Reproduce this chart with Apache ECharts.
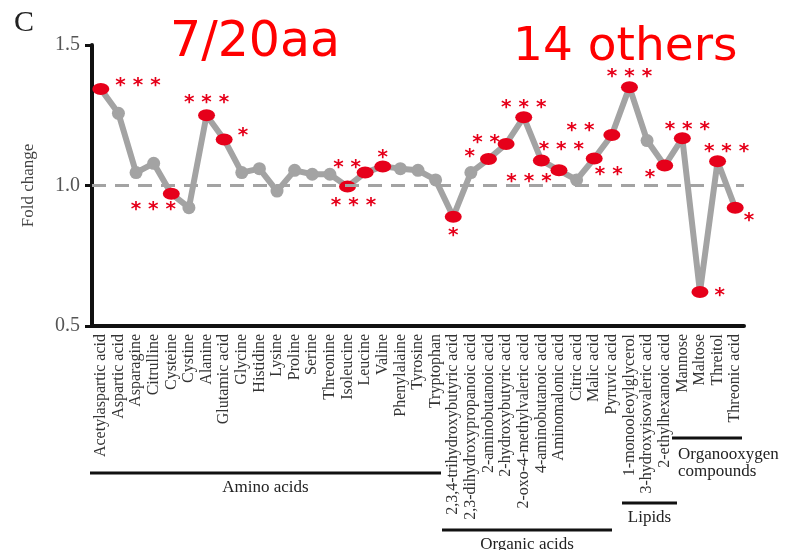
<!DOCTYPE html>
<html>
<head>
<meta charset="utf-8">
<script src="https://cdn.jsdelivr.net/npm/echarts@6/dist/echarts.min.js"></script>
<style>
    html, body { margin: 0; padding: 0; background: #fff; }
    #chart { width: 796px; height: 550px; }
</style>
</head>
<body>
<div id="chart"></div>
<script>
// metabolites on the x axis
const metabolites = [
    'Acetylaspartic acid', 'Aspartic acid', 'Asparagine', 'Citrulline', 'Cysteine', 'Cystine',
    'Alanine', 'Glutamic acid', 'Glycine', 'Histidine', 'Lysine', 'Proline', 'Serine',
    'Threonine', 'Isoleucine', 'Leucine', 'Valine', 'Phenylalaine', 'Tyrosine', 'Tryptophan',
    '2,3,4-trihydroxybutyric acid', '2,3-dihydroxypropanoic acid', '2-aminobutanoic acid',
    '2-hydroxybutyric acid', '2-oxo-4-methylvaleric acid', '4-aminobutanoic acid',
    'Aminomalonic acid', 'Citric acid', 'Malic acid', 'Pyruvic acid',
    '1-monooleoylglycerol', '3-hydroxyisovaleric acid', '2-ethylhexanoic acid',
    'Mannose', 'Maltose', 'Threitol', 'Threonic acid'
];

// fold change
const foldChange = [
    1.343, 1.257, 1.046, 1.079, 0.971, 0.921,
    1.250, 1.164, 1.046, 1.060, 0.980, 1.054, 1.040,
    1.040, 0.996, 1.046, 1.068, 1.060, 1.054, 1.020,
    0.889, 1.046, 1.094,
    1.148, 1.243, 1.089,
    1.054, 1.020, 1.096, 1.180,
    1.350, 1.160, 1.071,
    1.168, 0.621, 1.086, 0.921
];

// significance stars ('' = not significant)
const stars = [
    '***', '', '', '', '***', '',
    '***', '*', '', '', '', '', '',
    '', '***', '**', '*', '', '', '',
    '*', '', '*',
    '**', '***', '***',
    '***', '', '**', '**',
    '***', '', '*',
    '***', '*', '***', '*'
];

// where each star label sits: [position, dx, dy]
const starPlace = {
    0: ['right', 1, -3], 4: ['bottom', -18, -5], 6: ['top', 0, 9], 7: ['right', 0, -4],
    14: ['bottom', 6, -2], 15: ['top', -18, 16], 16: ['top', 0, 12],
    20: ['bottom', 0, -2], 22: ['left', 0, -2], 23: ['top', -20, 20], 24: ['top', 0, 12],
    25: ['top', 20, 10], 26: ['bottom', -30, -10], 28: ['right', -13, 16], 29: ['left', -4, -4],
    30: ['top', 0, 11], 32: ['left', 4, 12], 33: ['top', 5, 13], 34: ['right', 1, 4],
    35: ['top', 9, 11], 36: ['right', -5, 13]
};

const groups = [
    { name: 'Amino acids', x1: 90, x2: 441, y: 473 },
    { name: 'Organic acids', x1: 442, x2: 612, y: 530 },
    { name: 'Lipids', x1: 622, x2: 677, y: 503 }
];

const RED = '#e6001a';
const GREY = '#a3a3a3';
const SERIF = '"Liberation Serif", "DejaVu Serif", serif';

const chart = echarts.init(document.getElementById('chart'));

const points = foldChange.map((v, i) => {
    const sig = stars[i] !== '';
    const p = starPlace[i] || ['top', 0, 0];
    return {
        value: v,
        symbolSize: sig ? [17, 12] : [13, 13],
        itemStyle: { color: sig ? RED : GREY },
        label: {
            show: sig,
            position: p[0],
            formatter: () => stars[i].split('').join(' '),
            color: RED,
            fontSize: 20,
            fontWeight: 'bold',
            fontFamily: '"DejaVu Sans", sans-serif'
        }
    };
});

const graphic = [
    { type: 'text', left: 14, top: 8, style: { text: 'C', font: '30px ' + SERIF, fill: '#222' } },
    { type: 'text', left: 170, top: 19, style: { text: '7/20aa', font: '49px "DejaVu Sans"', fill: '#ff0000' } },
    { type: 'text', left: 513, top: 24, style: { text: '14 others', font: '47px "DejaVu Sans"', fill: '#ff0000' } },
    { type: 'line', shape: { x1: 672, y1: 438, x2: 742, y2: 438 }, style: { stroke: '#111', lineWidth: 3 } },
    { type: 'text', left: 678, top: 446, style: { text: 'Organooxygen\ncompounds', font: '17px ' + SERIF, fill: '#222', lineHeight: 17 } }
];
groups.forEach(g => {
    graphic.push({ type: 'line', shape: { x1: g.x1, y1: g.y, x2: g.x2, y2: g.y }, style: { stroke: '#111', lineWidth: 3 } });
    graphic.push({
        type: 'text', x: (g.x1 + g.x2) / 2, y: g.y + 6,
        style: { text: g.name, font: '17px ' + SERIF, fill: '#222', align: 'center', verticalAlign: 'top' }
    });
});

const option = {
    animation: false,
    grid: { left: 92, right: 52, top: 45, bottom: 224 },
    xAxis: {
        type: 'category',
        data: metabolites,
        boundaryGap: true,
        axisLine: { lineStyle: { color: '#111', width: 4 } },
        axisTick: { alignWithLabel: true, length: 6, lineStyle: { color: '#111', width: 5 } },
        axisLabel: {
            interval: 0, rotate: 90, margin: 8,
            fontSize: 16, fontFamily: SERIF, color: '#333'
        }
    },
    yAxis: {
        type: 'value',
        min: 0.5, max: 1.5, interval: 0.5,
        name: 'Fold change',
        nameLocation: 'middle',
        nameRotate: 90,
        nameGap: 55,
        nameTextStyle: { fontSize: 17, fontFamily: SERIF, color: '#444' },
        axisLine: { show: true, lineStyle: { color: '#111', width: 4 } },
        axisTick: { show: true, length: 7, lineStyle: { color: '#111', width: 3 } },
        axisLabel: {
            fontSize: 20, fontFamily: SERIF, color: '#555', margin: 12,
            formatter: v => v.toFixed(1)
        },
        splitLine: { show: false }
    },
    series: [{
        type: 'line',
        data: points,
        symbol: 'circle',
        lineStyle: { color: GREY, width: 6 },
        labelLayout: params => {
            const p = starPlace[params.dataIndex];
            return p ? { dx: p[1], dy: p[2], hideOverlap: false } : {};
        },
        markLine: {
            silent: true,
            symbol: 'none',
            label: { show: false },
            lineStyle: { color: GREY, width: 3, type: [14, 9] },
            data: [{ yAxis: 1.0 }]
        }
    }],
    graphic: graphic
};

chart.setOption(option);
</script>
</body>
</html>
